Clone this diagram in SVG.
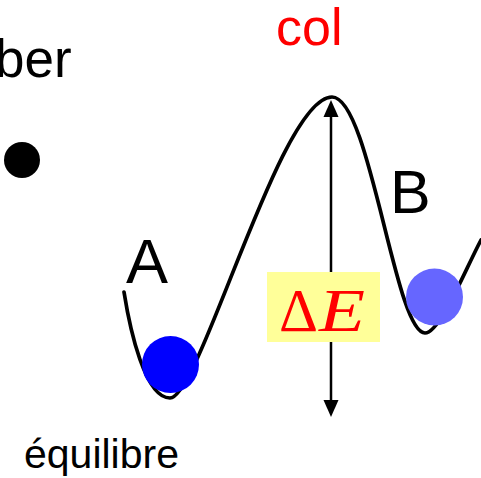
<svg xmlns="http://www.w3.org/2000/svg" width="481" height="478" viewBox="0 0 481 478">
<style>
.lbl{font-family:"Liberation Sans",Arial,sans-serif;fill:#000}
.red{fill:#ff0000}
.curve{fill:none;stroke:#000;stroke-width:3.7;stroke-linecap:round}
.serif{font-family:"Liberation Serif","Times New Roman",serif;fill:#ff0000}
.head{fill:#000}
</style>
<defs>
<path id="headUp" d="M-7.5,17 L0,0 L7.5,17 Z"/>
</defs>
<rect width="481" height="478" fill="#fff"/>
<g id="curve">
<path class="curve" d="M124,292 C130,330 145,398 170,398 C200,398 280,97 332,97 C370,97 395,333 425,333 C440,333 465,270 481,240"/>
</g>
<g id="connectors">
<line x1="331" y1="112" x2="331" y2="405" stroke="#000" stroke-width="2.5"/>
<use href="#headUp" class="head" transform="translate(331,100)"/>
<use href="#headUp" class="head" transform="translate(331,417) scale(1,-1)"/>
</g>
<g id="ballA"><circle cx="170.5" cy="364.5" r="28.5" fill="#0000ff"/></g>
<g id="ballB"><circle cx="434.5" cy="297" r="28.5" fill="#6666ff"/></g>
<g id="dot"><circle cx="22" cy="160" r="18" fill="#000"/></g>
<g id="deltaE">
<rect x="267" y="272" width="113" height="70" fill="#ffff99"/>
<text class="serif" x="279" y="331" font-size="62" textLength="39" lengthAdjust="spacingAndGlyphs">Δ</text>
<text class="serif" x="319" y="331" font-size="62" font-style="italic" textLength="46" lengthAdjust="spacingAndGlyphs">E</text>
</g>
<text class="lbl red" x="276" y="45" font-size="52">col</text>
<text class="lbl" x="-5" y="77" font-size="53">ber</text>
<text class="lbl" x="126" y="283" font-size="63">A</text>
<text class="lbl" x="390" y="213" font-size="61">B</text>
<text class="lbl" x="24" y="468" font-size="41">équilibre</text>
</svg>
